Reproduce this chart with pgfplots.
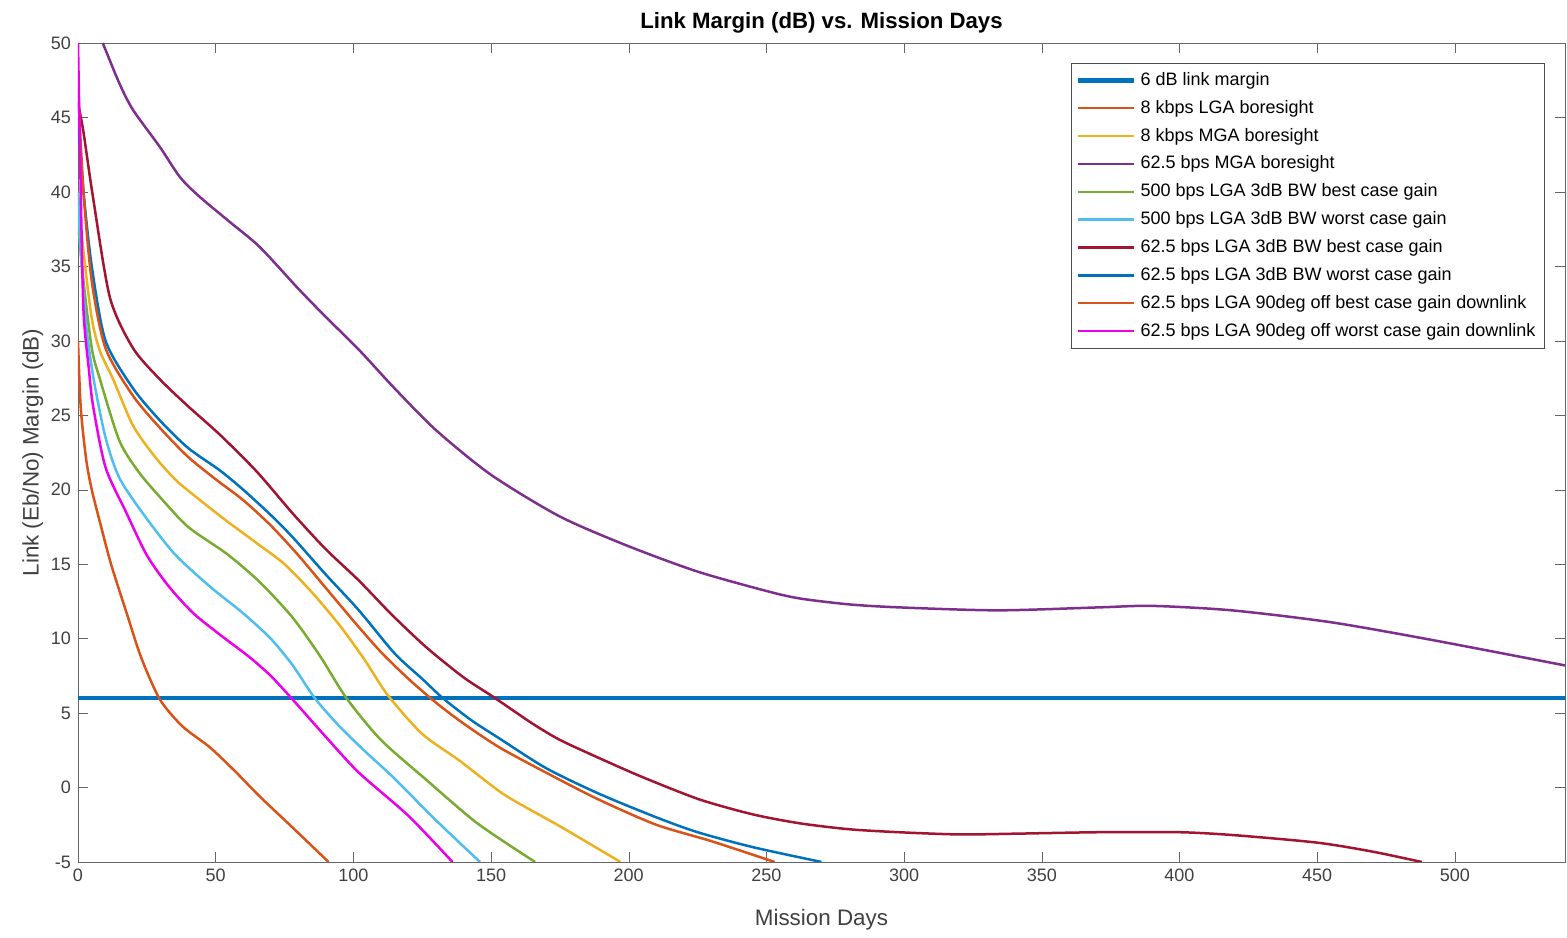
\documentclass[border=0pt]{standalone}
\usepackage{pgfplots}
\pgfplotsset{compat=1.18}
\usepackage{fontspec}
\setmainfont{Liberation Sans}
\definecolor{mblue}{RGB}{0,114,189}
\definecolor{morange}{RGB}{217,83,25}
\definecolor{myellow}{RGB}{237,177,32}
\definecolor{mpurple}{RGB}{126,47,142}
\definecolor{mgreen}{RGB}{119,172,48}
\definecolor{mcyan}{RGB}{77,190,238}
\definecolor{mdred}{RGB}{162,20,47}
\definecolor{mmag}{RGB}{235,0,235}
\begin{document}
\begin{tikzpicture}
\begin{axis}[
  scale only axis,
  width=743.5pt, height=409.5pt,
  xmin=0, xmax=540, ymin=-5, ymax=50,
  xtick={0,50,...,500}, ytick={-5,0,...,50},
  tick align=inside,
  major tick length=5pt,
  axis line style={black!60},
  tick style={black!60},
  ticklabel style={font=\fontsize{9}{10}\selectfont, text=black!75},
  /pgf/number format/assume math mode=true,
  title={\bfseries Link Margin (dB) vs. Mission Days},
  title style={font=\fontsize{11.1}{12}\selectfont, yshift=-4.5pt},
  xlabel={Mission Days},
  ylabel={Link (Eb/No) Margin (dB)},
  label style={font=\fontsize{11.2}{12}\selectfont, text=black!75},
  xlabel style={yshift=-7pt},
  ylabel style={yshift=-3pt},
  legend style={at={(0.9865,0.9756)}, anchor=north east, draw=black!70,
    font=\fontsize{9}{10}\selectfont, row sep=1.9pt, inner sep=2.5pt,
    cells={anchor=west}},
  legend image code/.code={\draw[#1] (0pt,0pt) -- (28pt,0pt);},
  every axis plot/.append style={line width=1.25pt, smooth, tension=0.45},
]
\addplot[mblue, line width=2.2pt] coordinates {(0,6) (540,6)};
\addlegendentry{6 dB link margin}
\addplot[morange] coordinates {(0,30) (1,25.5) (3,22) (5,20) (8,17.8) (12,15) (17.7,11.7) (23,8.7) (29.8,5.9) (38,4.1) (47.9,2.7) (57,1.1) (66,-0.6) (78,-2.7) (91,-5)};
\addlegendentry{8 kbps LGA boresight}
\addplot[myellow] coordinates {(0,40) (2,36) (5,31.5) (8,29.3) (12.8,27.4) (20,24.3) (28,22.2) (35.8,20.6) (45,19.2) (54,17.9) (65,16.4) (75,15) (85,13.1) (95,10.9) (104,8.6) (112.5,6.2) (125,3.6) (138.6,1.8) (155,-0.5) (175,-2.6) (197,-5)};
\addlegendentry{8 kbps MGA boresight}
\addplot[mpurple] coordinates {(9,50) (15,47.3) (20,45.5) (29.8,43) (37,41) (44,39.7) (55,38) (66,36.3) (80,33.5) (90,31.6) (102,29.4) (115,26.8) (130,24) (150,21) (175,18.2) (200,16.2) (225,14.5) (250,13.2) (262,12.7) (280,12.3) (298,12.1) (334,11.9) (371,12.1) (390,12.2) (419,11.9) (455,11.1) (492,9.9) (540,8.2)};
\addlegendentry{62.5 bps MGA boresight}
\addplot[mgreen] coordinates {(0,38) (2,34) (5,29.5) (8,27.4) (15,23.3) (22,21.2) (29.8,19.5) (40,17.5) (54,15.7) (66,13.8) (78,11.4) (88,8.8) (97.5,6) (110,3.2) (126.6,0.5) (145,-2.4) (166,-5)};
\addlegendentry{500 bps LGA 3dB BW best case gain}
\addplot[mcyan] coordinates {(0,40) (1,36) (3,31) (5.7,27.4) (10,23.5) (15,20.8) (23.6,18.4) (35,15.7) (47.9,13.5) (60,11.7) (70,10) (78,8.2) (86,6) (95,4.1) (105,2.3) (114.4,0.7) (130,-2.2) (146,-5)};
\addlegendentry{500 bps LGA 3dB BW worst case gain}
\addplot[mdred] coordinates {(0,46) (2,44) (5.4,39.7) (11.6,32.9) (20,29.5) (29.8,27.4) (40,25.6) (51.5,23.7) (65,21.2) (78,18.4) (90,16) (102,13.9) (114,11.6) (126.6,9.4) (140,7.4) (150.7,6.1) (165,4.3) (175,3.2) (189,2) (205,0.7) (225.7,-0.8) (245,-1.8) (262,-2.4) (280,-2.8) (298,-3.0) (320,-3.15) (340,-3.1) (371,-3.0) (400,-3.0) (420,-3.2) (450,-3.7) (470,-4.3) (488,-5)};
\addlegendentry{62.5 bps LGA 3dB BW best case gain}
\addplot[mblue] coordinates {(0,45) (2,40) (5,35) (10,30) (20,26.8) (30,24.6) (40,22.8) (51.5,21.3) (60,20) (70,18.3) (78,16.8) (90,14.3) (102,11.9) (115,9) (125,7.3) (132.5,6) (143,4.5) (153,3.3) (170,1.3) (189,-0.4) (210,-2) (225,-3) (245,-4) (270,-5)};
\addlegendentry{62.5 bps LGA 3dB BW worst case gain}
\addplot[morange] coordinates {(0,47) (2,40) (5,34) (10,29.5) (20,26.3) (30,24.1) (40,22.2) (50,20.7) (60,19.3) (70,17.6) (80,15.6) (90,13.4) (100,11.2) (110,9.1) (120,7.3) (130,5.7) (140,4.3) (153,2.7) (170,1) (189,-0.8) (210,-2.5) (230,-3.6) (253,-5)};
\addlegendentry{62.5 bps LGA 90deg off best case gain downlink}
\addplot[mmag] coordinates {(0,50) (1,40) (2,32) (4,28) (5.5,25.6) (10,21.5) (17.7,18.4) (25,15.6) (33,13.5) (41.9,11.7) (52,10.2) (62,8.8) (70,7.5) (78,5.9) (90,3.4) (102,1) (120,-1.9) (136,-5)};
\addlegendentry{62.5 bps LGA 90deg off worst case gain downlink}
\end{axis}
\path ([xshift=-39pt,yshift=-37.5pt]current axis.south west) rectangle ([xshift=1pt,yshift=21.5pt]current axis.north east);
\end{tikzpicture}
\end{document}
